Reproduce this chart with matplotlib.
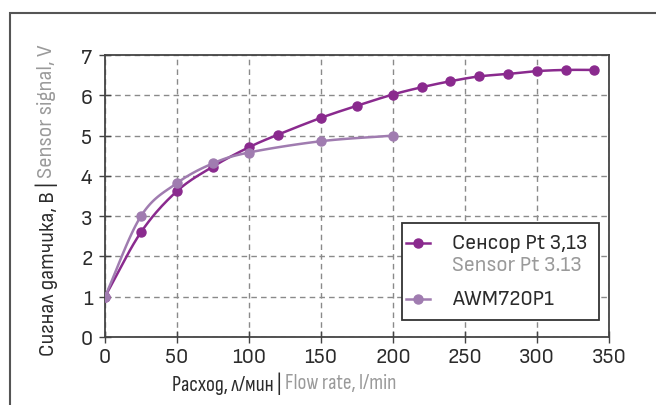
import numpy as np
import matplotlib
matplotlib.use("Agg")
import matplotlib.pyplot as plt
from matplotlib.patches import Rectangle
from matplotlib.lines import Line2D

plt.rcParams['font.family'] = ['Sofia Sans Semi Condensed', 'DejaVu Sans']

# data
sensor_x = [0, 25, 50, 75, 100, 120, 150, 175, 200, 220, 240, 260, 280, 300, 320, 340]
sensor_y = [1.0, 2.6, 3.62, 4.23, 4.71, 5.02, 5.44, 5.74, 6.02, 6.2, 6.35, 6.47, 6.53, 6.6, 6.63, 6.63]
awm_x = [0, 25, 50, 75, 100, 150, 200]
awm_y = [1.0, 3.0, 3.82, 4.31, 4.58, 4.86, 5.0]

sensor_ru = "Сенсор Pt 3,13"
sensor_en = "Sensor Pt 3.13"
awm_label = "AWM720P1"
xlabel_ru = "Расход, л/мин | "
xlabel_en = "Flow rate, l/min"
ylabel_ru = "Сигнал датчика, В | "
ylabel_en = "Sensor signal, V"

c_sensor = "#8a2a8e"
c_awm = "#a07cb0"
c_gray = "#9a9a9a"
c_dark = "#2b2b2b"


def smooth(x, y, n=20):
    # catmull-rom through the points, just for drawing the curve
    x = np.asarray(x, float)
    y = np.asarray(y, float)
    px = np.concatenate([[2 * x[0] - x[1]], x, [2 * x[-1] - x[-2]]])
    py = np.concatenate([[2 * y[0] - y[1]], y, [2 * y[-1] - y[-2]]])
    t = np.linspace(0, 1, n)
    xs, ys = [], []
    for i in range(1, len(px) - 2):
        for p, out in ((px, xs), (py, ys)):
            p0, p1, p2, p3 = p[i - 1], p[i], p[i + 1], p[i + 2]
            out.append(0.5 * (2 * p1 + (-p0 + p2) * t
                              + (2 * p0 - 5 * p1 + 4 * p2 - p3) * t ** 2
                              + (-p0 + 3 * p1 - 3 * p2 + p3) * t ** 3))
    return np.concatenate(xs), np.concatenate(ys)


def fx(px):
    return (px - 105) / 504


def fy(py):
    return (338 - py) / 282


fig = plt.figure(figsize=(6.56, 4.06), dpi=100)
ax = fig.add_axes([0.160, 0.1675, 0.768, 0.6945])

# outer frame
fig.patches.append(Rectangle((10 / 656, -0.1), 1.2, (406 - 14) / 406 + 0.1,
                             transform=fig.transFigure, fill=False,
                             edgecolor="#555555", lw=1.5))

sx, sy = smooth(sensor_x, sensor_y)
ax.plot(sx, sy, color=c_sensor, lw=1.8, zorder=3)
ax.plot(sensor_x, sensor_y, 'o', color=c_sensor, ms=6.5, zorder=4)
axx, axy = smooth(awm_x, awm_y)
ax.plot(axx, axy, color=c_awm, lw=1.8, zorder=5)
ax.plot(awm_x, awm_y, 'o', color=c_awm, ms=6.5, zorder=6)

ax.set_xlim(0, 350)
ax.set_ylim(0, 7)
ax.set_xticks(range(0, 351, 50))
ax.set_yticks(range(0, 8))
ax.grid(True, color="#8a8a8a", ls=(0, (4, 3)), lw=1)
ax.set_axisbelow(True)
for s in ax.spines.values():
    s.set_color("#444444")
    s.set_linewidth(1.3)
ax.tick_params(direction='inout', length=8, width=1, color="#444444",
               labelsize=16, labelcolor=c_dark, pad=3)
ax.tick_params(axis='y', pad=5)

# legend drawn by hand (two-colour label)
ax.add_patch(Rectangle((fx(402), fy(321)), (599 - 402) / 504, (321 - 224) / 282,
                       transform=ax.transAxes, facecolor="white",
                       edgecolor="#333333", lw=1.3, zorder=7, clip_on=False))
for y_px, col in ((244, c_sensor), (300, c_awm)):
    ax.add_line(Line2D([fx(406), fx(430)], [fy(y_px)] * 2, color=col, lw=1.8,
                       transform=ax.transAxes, zorder=8))
    ax.add_line(Line2D([fx(418)], [fy(y_px)], marker='o', ms=6.5, color=col,
                       transform=ax.transAxes, zorder=8))
ax.text(fx(452), fy(243), sensor_ru, transform=ax.transAxes, fontsize=16,
        color=c_dark, va='center', zorder=8)
ax.text(fx(452), fy(265), sensor_en, transform=ax.transAxes, fontsize=16,
        color=c_gray, va='center', zorder=8)
ax.text(fx(452), fy(300), awm_label, transform=ax.transAxes, fontsize=16,
        color=c_dark, va='center', zorder=8)

# two-colour axis labels
r = fig.canvas.get_renderer()
xfam = ['Sofia Sans Condensed', 'DejaVu Sans']
t1 = fig.text(0, 0, xlabel_ru, fontsize=15.5, family=xfam, color=c_dark, va='center')
t2 = fig.text(0, 0, xlabel_en, fontsize=15.5, family=xfam, color=c_gray, va='center')
w1 = t1.get_window_extent(r).width
w2 = t2.get_window_extent(r).width
x0 = 284 - (w1 + w2) / 2
yc = (406 - 384) / 406
t1.set_position((x0 / 656, yc))
t2.set_position(((x0 + w1) / 656, yc))

u1 = fig.text(0, 0, ylabel_ru, fontsize=15, color=c_dark, rotation=90,
              ha='left', va='center', rotation_mode='anchor')
u2 = fig.text(0, 0, ylabel_en, fontsize=15, color=c_gray, rotation=90,
              ha='left', va='center', rotation_mode='anchor')
h1 = u1.get_window_extent(r).height
h2 = u2.get_window_extent(r).height
y0 = 206 - (h1 + h2) / 2
u1.set_position((47 / 656, y0 / 406))
u2.set_position((47 / 656, (y0 + h1) / 406))

fig.savefig("out.png", dpi=100)
